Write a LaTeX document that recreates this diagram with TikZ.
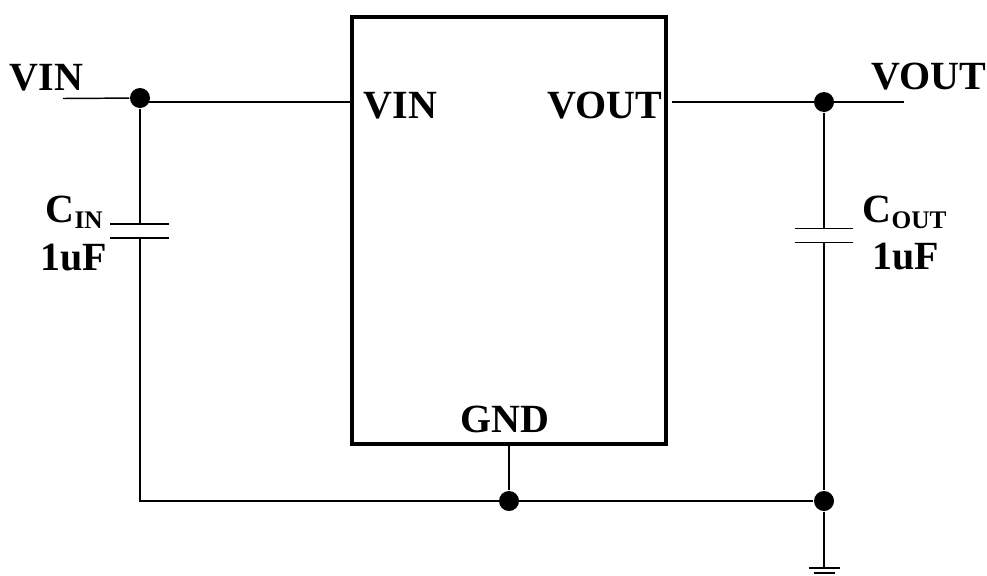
\documentclass[tikz,border=0pt]{standalone}
\usepackage{fontspec}
\setmainfont{Liberation Serif}
\newcommand{\capname}[2]{#1\raisebox{-0.16em}{\fontsize{19}{19}\selectfont #2}}
\begin{document}
\begin{tikzpicture}[x=0.75pt,y=-0.75pt,line width=1.1pt,
  dot node/.style={circle,fill=black,inner sep=0pt,minimum size=15pt},
  chip node/.style={rectangle,draw,line width=3pt,inner sep=0pt,minimum width=235.5pt,minimum height=320pt},
  label node/.style={anchor=base west,inner sep=0pt,font=\fontsize{30}{30}\selectfont\bfseries}]
  \useasboundingbox (0,0) rectangle (987,575);
  \node[chip node] (chip) at (509,230.5) {};
  \node[dot node] (in) at (140,98) {};
  \node[dot node] (out) at (824,102) {};
  \node[dot node] (mid) at (509,501) {};
  \node[dot node] (low) at (824,501) {};
  % wire ends
  \coordinate (in left) at (63,98.5);
  \coordinate (in right) at (140,102);
  \coordinate (chip in) at (352,102);
  \coordinate (chip out) at (672,102);
  \coordinate (out right) at (904,102);
  \coordinate (corner) at (140,501);
  \coordinate (gnd end) at (824,568);
  \coordinate (chip gnd) at (509,444);
  % input capacitor
  \coordinate (cin a) at (110,224);
  \coordinate (cin b) at (169,224);
  \coordinate (cin c) at (110,238);
  \coordinate (cin d) at (169,238);
  \coordinate (cin top) at (140,224);
  \coordinate (cin bot) at (140,238);
  % output capacitor
  \coordinate (cout a) at (795,228.5);
  \coordinate (cout b) at (853,228.5);
  \coordinate (cout c) at (795,242.5);
  \coordinate (cout d) at (853,242.5);
  \coordinate (cout top) at (824,228.5);
  \coordinate (cout bot) at (824,242.5);
  % ground plates
  \coordinate (gnd a) at (809,568);
  \coordinate (gnd b) at (840,568);
  \coordinate (gnd c) at (814,573);
  \coordinate (gnd d) at (835,573);
  \draw (in left) -- (in);
  \draw (in right) -- (chip in);
  \draw (chip out) -- (out right);
  \draw (in) -- (cin top);
  \draw (cin a) -- (cin b);
  \draw (cin c) -- (cin d);
  \draw (cin bot) -- (corner) -- (low);
  \draw (out) -- (cout top);
  \draw (cout a) -- (cout b);
  \draw (cout c) -- (cout d);
  \draw (cout bot) -- (low) -- (gnd end);
  \draw (chip gnd) -- (mid);
  \draw (gnd a) -- (gnd b);
  \draw (gnd c) -- (gnd d);
  \node[label node] (vin label) at (9,90) {VIN};
  \node[label node] (vout label) at (871,89) {VOUT};
  \node[label node] (chip vin) at (363,118) {VIN};
  \node[label node] (chip vout) at (547,118) {VOUT};
  \node[label node] (chip gnd label) at (460,432) {GND};
  \node[label node] (cin name) at (45,222) {\capname{C}{IN}};
  \node[label node] (cin value) at (40,270) {1uF};
  \node[label node] (cout name) at (862,222) {\capname{C}{OUT}};
  \node[label node] (cout value) at (872,269) {1uF};
\end{tikzpicture}
\end{document}
